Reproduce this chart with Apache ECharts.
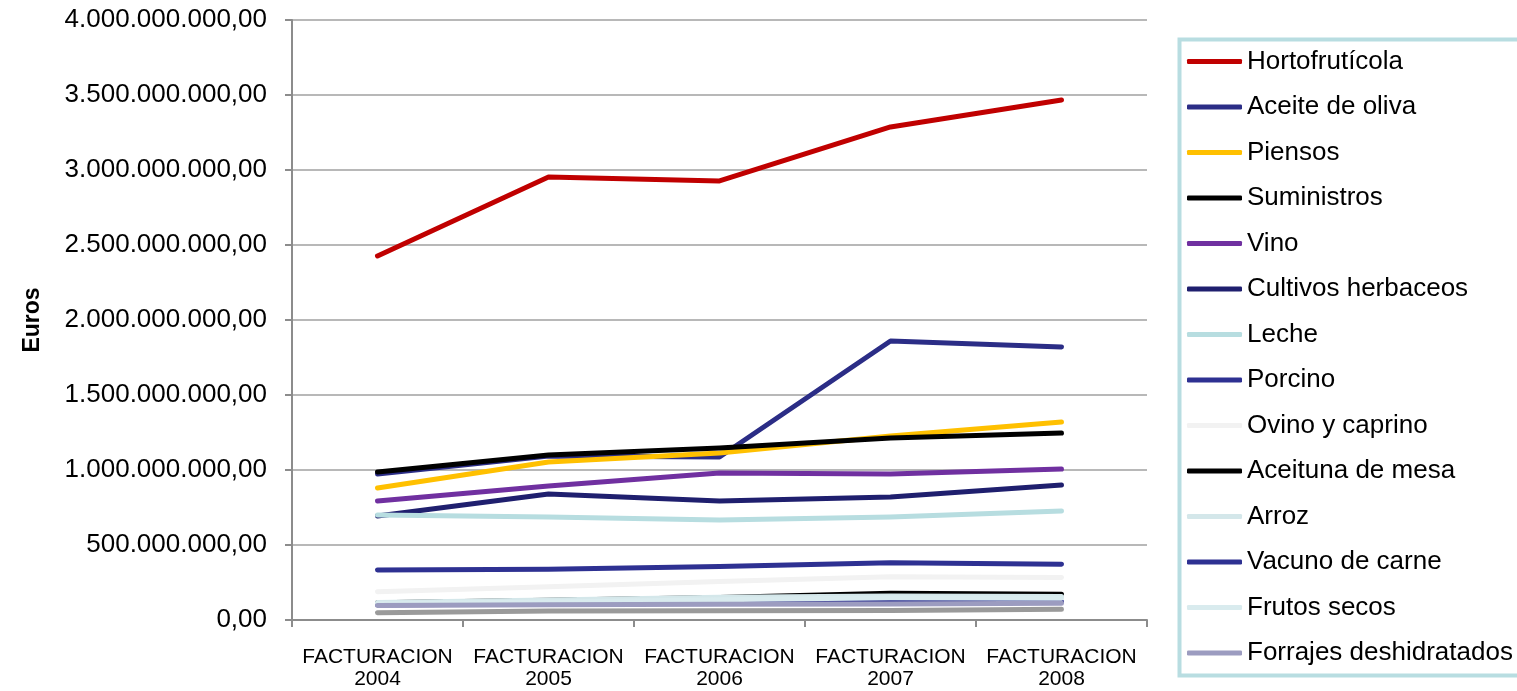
<!DOCTYPE html>
<html>
<head>
<meta charset="utf-8">
<script src="https://cdn.jsdelivr.net/npm/echarts@6/dist/echarts.min.js"></script>
<style>html,body{margin:0;padding:0;background:#fff}#c{width:1517px;height:691px}</style>
</head>
<body>
<div id="c"></div>
<script>
const categories = ['2004', '2005', '2006', '2007', '2008'];
const catPrefix = 'FACTURACION';
const yTicks = [0, 500000000, 1000000000, 1500000000, 2000000000, 2500000000, 3000000000, 3500000000, 4000000000];

const seriesNames = ['Hortofrutícola', 'Aceite de oliva', 'Piensos', 'Suministros', 'Vino',
  'Cultivos herbaceos', 'Leche', 'Porcino', 'Ovino y caprino', 'Aceituna de mesa',
  'Arroz', 'Vacuno de carne', 'Frutos secos', 'Forrajes deshidratados', 'Otros'];
const seriesColors = ['#C00000', '#2B2D86', '#FFC000', '#000000', '#7030A0',
  '#1F1F6E', '#B7DDE0', '#2E3192', '#F2F2F2', '#000000',
  '#D4E7EA', '#2E3192', '#D9EBEE', '#9C9CC0', '#9A9A9A'];

const hortofruticola = [2427e6, 2953e6, 2927e6, 3287e6, 3467e6];
const aceiteOliva = [973e6, 1093e6, 1087e6, 1860e6, 1820e6];
const piensos = [880e6, 1053e6, 1113e6, 1227e6, 1320e6];
const suministros = [987e6, 1100e6, 1147e6, 1213e6, 1247e6];
const vino = [793e6, 893e6, 980e6, 973e6, 1007e6];
const cultivosHerbaceos = [693e6, 840e6, 793e6, 820e6, 900e6];
const leche = [700e6, 687e6, 667e6, 687e6, 727e6];
const porcino = [333e6, 338e6, 356e6, 382e6, 371e6];
const ovinoCaprino = [189e6, 222e6, 256e6, 289e6, 284e6];
const aceitunaMesa = [115e6, 132e6, 150e6, 178e6, 172e6];
const arroz = [116e6, 133e6, 151e6, 160e6, 156e6];
const vacunoCarne = [100e6, 108e6, 118e6, 138e6, 122e6];
const frutosSecos = [110e6, 120e6, 135e6, 148e6, 145e6];
const forrajes = [96e6, 102e6, 105e6, 107e6, 111e6];
const otros = [49e6, 60e6, 62e6, 64e6, 71e6];

const seriesValues = [hortofruticola, aceiteOliva, piensos, suministros, vino,
  cultivosHerbaceos, leche, porcino, ovinoCaprino, aceitunaMesa,
  arroz, vacunoCarne, frutosSecos, forrajes, otros];

function fmt(v) {
  const parts = Math.round(v).toString().replace(/\B(?=(\d{3})+(?!\d))/g, '.');
  return parts + ',00';
}

const FONT = '"Liberation Sans", Arial, sans-serif';
const chart = echarts.init(document.getElementById('c'), null, {renderer: 'canvas'});

const series = seriesNames.map((n, i) => ({
  name: n,
  type: 'line',
  data: seriesValues[i],
  symbol: 'none',
  smooth: false,
  itemStyle: {color: seriesColors[i]},
  lineStyle: {width: 5, color: seriesColors[i], cap: 'round', join: 'round'},
  emphasis: {disabled: true},
  z: 2 + i
}));

chart.setOption({
  animation: false,
  backgroundColor: '#ffffff',
  textStyle: {fontFamily: FONT},
  grid: {left: 292, right: 370, top: 20, bottom: 71, containLabel: false},
  graphic: [{
    type: 'rect', left: 1177, top: 37, z: 0,
    shape: {x: 0, y: 0, width: 400, height: 636},
    style: {fill: 'none', stroke: '#B8DDE1', lineWidth: 4}
  }],
  legend: {
    orient: 'vertical', left: 1187, top: 48.5, height: 640,
    data: seriesNames.slice(0, 14),
    itemWidth: 55, itemHeight: 5, itemGap: 19.5,
    padding: 0,
    icon: 'roundRect',
    textStyle: {fontFamily: FONT, fontSize: 26, color: '#000', lineHeight: 26},
    selectedMode: false
  },
  xAxis: {
    type: 'category',
    data: categories,
    boundaryGap: true,
    axisLine: {lineStyle: {color: '#8C8C8C', width: 2}},
    axisTick: {show: true, length: 7, lineStyle: {color: '#8C8C8C', width: 2}},
    axisLabel: {
      margin: 26, interval: 0,
      fontFamily: FONT, fontSize: 21, lineHeight: 22, color: '#000',
      formatter: v => catPrefix + '\n' + v
    },
    splitLine: {show: false}
  },
  yAxis: {
    type: 'value',
    min: yTicks[0], max: yTicks[yTicks.length - 1], interval: 500000000,
    name: 'Euros', nameLocation: 'middle', nameGap: 248, nameRotate: 90,
    nameTextStyle: {fontFamily: FONT, fontSize: 23, fontWeight: 'bold', color: '#000'},
    axisLine: {show: true, lineStyle: {color: '#8C8C8C', width: 2}},
    axisTick: {show: true, length: 7, lineStyle: {color: '#8C8C8C', width: 2}},
    axisLabel: {margin: 25, fontFamily: FONT, fontSize: 26, color: '#000', formatter: v => fmt(v)},
    splitLine: {show: true, lineStyle: {color: '#A0A0A0', width: 1.5}}
  },
  series: series
});
</script>
</body>
</html>
